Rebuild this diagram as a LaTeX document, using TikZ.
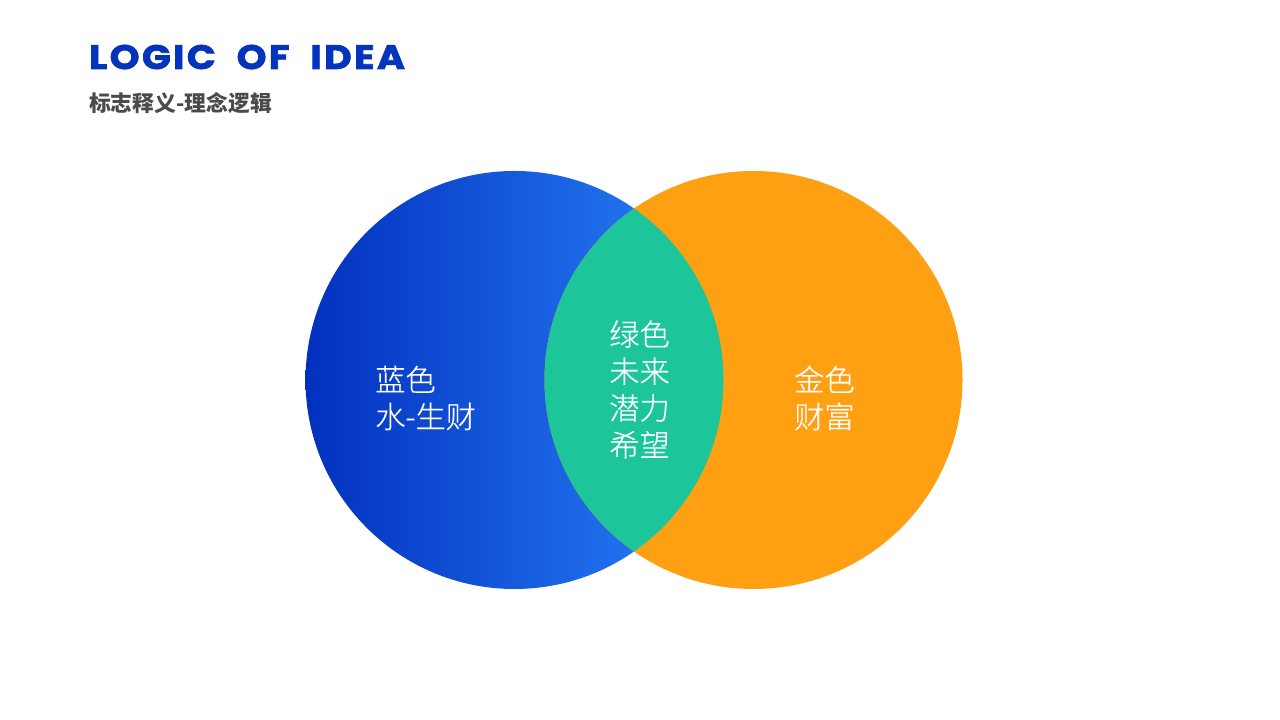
\documentclass[tikz,border=0pt]{standalone}
\usepackage{fontspec}
\setmainfont{Noto Sans CJK SC}
\newfontfamily\titlefont[LetterSpace=7,FakeStretch=1.12,FakeBold=2.2]{Poppins Bold}
\newfontfamily\cjklight[FakeBold=0.4]{Noto Sans CJK SC Light}
\definecolor{titleblue}{HTML}{0433BE}
\definecolor{subgray}{HTML}{4A4A4A}
\definecolor{deepblue}{HTML}{0230BE}
\definecolor{paleblue}{HTML}{2984FB}
\definecolor{goldfill}{HTML}{FF9F12}
\definecolor{lensgreen}{HTML}{1DC59B}
\tikzset{
    disc/.style={circle,inner sep=0pt,minimum size=4.18cm},
    lbl/.style={text=white,font=\cjklight\fontsize{8.6pt}{10.5pt}\selectfont,align=left,inner sep=0pt},
}
\begin{document}
\begin{tikzpicture}
        \useasboundingbox (0,0) rectangle (12.8,7.2);
        \fill[white] (0,0) rectangle (12.8,7.2);
        \node[disc,left color=deepblue,right color=paleblue] (bluedisc) at (5.145,3.4) {};
        \node[disc,fill=goldfill] (golddisc) at (7.535,3.4) {};
        \begin{scope}
            \clip (5.145,3.4) circle (2.09);
            \fill[lensgreen] (7.535,3.4) circle (2.09);
        \end{scope}
        \node[anchor=base west,inner sep=0pt,text=titleblue,font=\titlefont\fontsize{9.65pt}{12pt}\selectfont] (title) at (0.885,6.51) {LOGIC\ \ OF\ \ IDEA};
        \node[anchor=base west,inner sep=0pt,text=subgray,font=\bfseries\fontsize{6.2pt}{7pt}\selectfont] (subtitle) at (0.885,6.08) {标志释义-理念逻辑};
        \node[lbl,anchor=west] (bluelabel) at (3.745,3.22) {蓝色\\水-生财};
        \node[lbl,anchor=center] (greenlabel) at (6.395,3.305) {绿色\\未来\\潜力\\希望};
        \node[lbl,anchor=west] (goldlabel) at (7.935,3.22) {金色\\财富};
    \end{tikzpicture}
\end{document}
